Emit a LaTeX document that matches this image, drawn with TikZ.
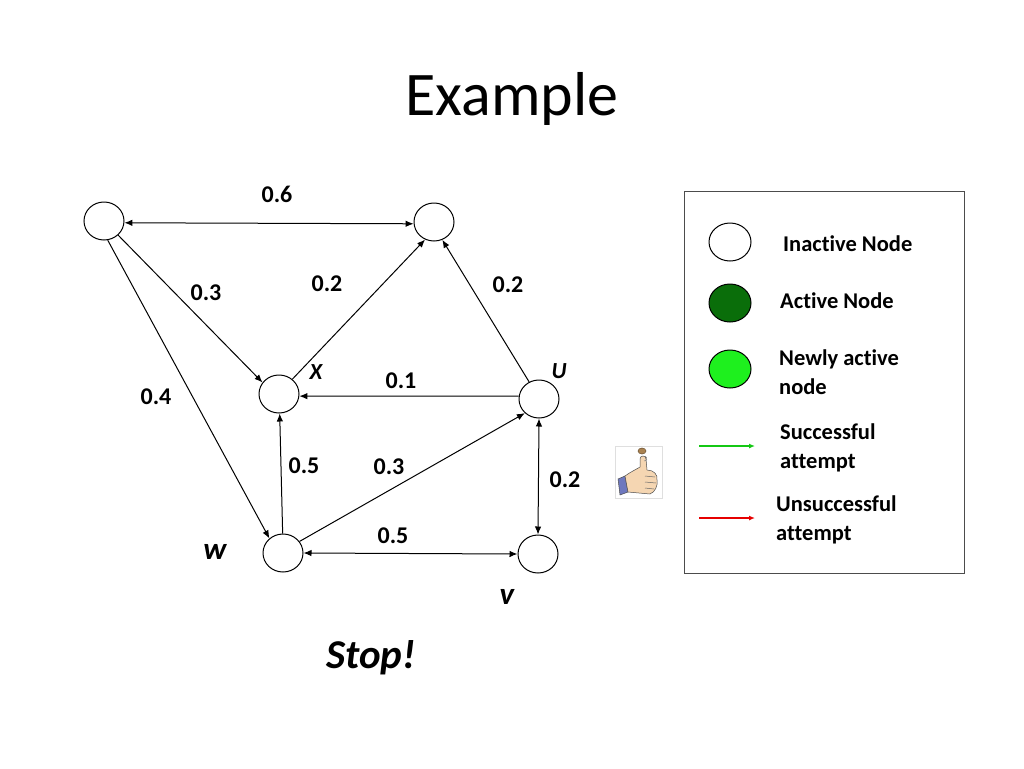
\documentclass[tikz,border=0pt]{standalone}
\usepackage{fontspec}
\setmainfont{Carlito}[Ligatures={NoCommon}]
\usetikzlibrary{shapes.geometric,arrows.meta}
\definecolor{activegreen}{RGB}{10,110,10}
\definecolor{newgreen}{RGB}{30,240,30}
\definecolor{succgreen}{RGB}{20,200,20}
\definecolor{failred}{RGB}{230,0,0}
\definecolor{skin}{RGB}{245,214,178}
\definecolor{cuffblue}{RGB}{110,120,190}
\definecolor{coin}{RGB}{170,130,80}
\begin{document}
\begin{tikzpicture}[x=1pt,y=-1pt,
  vert/.style={ellipse,draw,line width=1pt,fill=white,minimum width=40pt,minimum height=38pt,inner sep=0pt},
  edge/.style={line width=1pt,-{Latex[length=8pt,width=6.5pt]}},
  bedge/.style={line width=1pt,{Latex[length=8pt,width=6.5pt]}-{Latex[length=8pt,width=6.5pt]}},
  wt/.style={font=\fontsize{24}{28}\selectfont\bfseries,inner sep=0pt},
  nm/.style={font=\fontsize{23}{28}\selectfont\bfseries\itshape,inner sep=0pt},
  nmbig/.style={font=\fontsize{31}{34}\selectfont\bfseries\itshape,inner sep=0pt},
  lg/.style={font=\fontsize{22.5}{29}\selectfont\bfseries,anchor=base west,inner sep=0pt},
  lgarrow/.style={line width=1.2pt,-{Latex[length=6pt,width=5pt]}},
]
\useasboundingbox (0,0) rectangle (1024,768);

% title
\node (title) [font=\fontsize{62}{70}\selectfont,anchor=base] at (512,115) {Example};

% graph nodes
\node (tl) [vert] at (104,221) {};
\node (t)  [vert] at (434,222) {};
\node (x)  [vert] at (279,394) {};
\node (u)  [vert] at (539,399) {};
\node (w)  [vert] at (283,553) {};
\node (v)  [vert] at (538,554) {};

% edges
\draw[bedge] (tl.-5) -- (t.185);
\draw[edge] (tl.-45) -- (x.145);
\draw[edge] (tl.-79) -- (w.133);
\draw[edge] (x.48) -- (t.-117);
\draw[edge] (u.120) -- (t.-65);
\draw[edge] (u.172) -- (x.-6);
\draw[edge] (w.91) -- (x.-88);
\draw[edge] (w.35) -- (u.-135);
\draw[bedge] (w.0) -- (v.180);
\draw[bedge] (u.-90) -- (v.90);

% weights
\node (l06)  [wt] at (277,194) {0.6};
\node (l03a) [wt] at (206,293) {0.3};
\node (l02a) [wt] at (327,284) {0.2};
\node (l02b) [wt] at (508,285) {0.2};
\node (l01)  [wt] at (401,381) {0.1};
\node (l04)  [wt] at (156,397) {0.4};
\node (l05a) [wt] at (304,466) {0.5};
\node (l03b) [wt] at (389,467) {0.3};
\node (l02c) [wt] at (565,480) {0.2};
\node (l05b) [wt] at (393,536) {0.5};

% node names
\node (nx) [nm] at (316,372) {X};
\node (nu) [nm] at (559,371) {U};
\node (nw) [nmbig] at (215,552) {w};
\node (nv) [nmbig] at (507,597) {v};

% stop
\node (stop) [font=\fontsize{41}{44}\selectfont\bfseries\itshape,anchor=base,inner sep=0pt] at (371,668) {Stop!};

% thumb icon
\draw[gray!25,line width=0.8pt] (615,446) rectangle (662,498);
\filldraw[fill=cuffblue,draw=black!70,line width=0.5pt] (618,479) -- (625,476) -- (628,492) -- (620,495) -- cycle;
\filldraw[fill=skin,draw=black!70,line width=0.5pt] (625,476) .. controls (632,471) and (637,469) .. (640,467) -- (640,459) .. controls (640,455) and (646,455) .. (646,459) -- (647,470) .. controls (654,470) and (658,475) .. (657,480) .. controls (658,486) and (655,492) .. (650,494) -- (628,492) -- cycle;
\draw[black!60,line width=0.5pt] (645,476) -- (655,477) (645,482) -- (656,483) (645,488) -- (654,489);
\filldraw[fill=coin,draw=coin!60!black,line width=0.5pt] (642,451) ellipse (4 and 3);
\draw[gray,line width=0.5pt] (645,456) .. controls (648,458) and (647,461) .. (644,461);

% legend
\node (legend) [draw=gray!60!black,line width=1pt,minimum width=280pt,minimum height=382pt,anchor=north west,inner sep=0pt] at (684,191) {};
\node (li) [ellipse,draw,line width=1pt,fill=white,minimum width=42pt,minimum height=38pt,inner sep=0pt] at (730,242) {};
\node (la) [ellipse,draw,line width=1pt,fill=activegreen,minimum width=42pt,minimum height=38pt,inner sep=0pt] at (730,303) {};
\node (ln) [ellipse,draw,line width=1pt,fill=newgreen,minimum width=42pt,minimum height=38pt,inner sep=0pt] at (730,369) {};
\node (ti) [lg] at (783,251) {Inactive Node};
\node (ta) [lg] at (780,308) {Active Node};
\node (tn) [lg] at (779,365) {\begin{tabular}[t]{@{}l@{}}Newly active\\node\end{tabular}};
\node (ts) [lg] at (780,439) {\begin{tabular}[t]{@{}l@{}}Successful\\attempt\end{tabular}};
\node (tu) [lg] at (776,511) {\begin{tabular}[t]{@{}l@{}}Unsuccessful\\attempt\end{tabular}};
\coordinate (gs) at (699,446);
\coordinate (ge) at (755,446);
\coordinate (rs) at (699,518);
\coordinate (re) at (755,518);
\draw[lgarrow,succgreen] (gs) -- (ge);
\draw[lgarrow,failred] (rs) -- (re);
\end{tikzpicture}
\end{document}
